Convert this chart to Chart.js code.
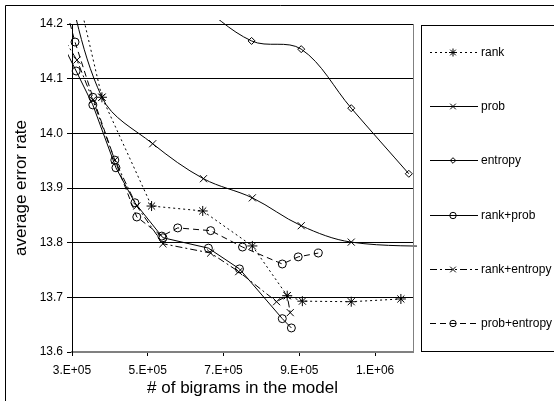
<!DOCTYPE html>
<html>
<head>
<meta charset="utf-8">
<script src="https://cdn.jsdelivr.net/npm/chart.js@4"></script>
<style>
  html, body { margin: 0; padding: 0; background: #fff; }
  #wrap { width: 554px; height: 401px; }
</style>
</head>
<body>
<div id="wrap"><canvas id="chart" width="554" height="401"></canvas></div>
<script>
// values (first/last points lie outside the axes, as in the original)
const rankX = [2.6e5, 3.79e5, 5.1e5, 6.45e5, 7.76e5, 8.68e5, 9.08e5, 1.037e6, 1.168e6];
const rankY = [14.42, 14.066, 13.867, 13.858, 13.794, 13.703, 13.693, 13.692, 13.697];

const probX = [2.6e5, 3.79e5, 5.13e5, 6.47e5, 7.76e5, 9.05e5, 1.037e6, 1.3e6];
const probY = [14.356, 14.066, 13.981, 13.917, 13.882, 13.831, 13.801, 13.792];

const entropyX = [6.2e5, 7.74e5, 9.05e5, 1.037e6, 1.189e6];
const entropyY = [14.245, 14.169, 14.154, 14.046, 13.926];

const rankProbX = [2.6e5, 3.11e5, 3.55e5, 4.16e5, 4.66e5, 5.4e5, 6.6e5, 7.42e5, 8.55e5, 8.79e5];
const rankProbY = [14.184, 14.114, 14.052, 13.937, 13.873, 13.809, 13.79, 13.752, 13.661, 13.644];

const rankEntX = [2.6e5, 3.13e5, 3.55e5, 4.13e5, 4.71e5, 5.4e5, 6.66e5, 7.4e5, 8.4e5, 8.68e5, 8.76e5];
const rankEntY = [14.194, 14.134, 14.061, 13.951, 13.867, 13.798, 13.781, 13.747, 13.692, 13.703, 13.672];

const probEntX = [2.6e5, 3.08e5, 3.55e5, 4.13e5, 4.71e5, 5.37e5, 5.79e5, 6.66e5, 7.5e5, 8.55e5, 8.97e5, 9.5e5];
const probEntY = [14.29, 14.167, 14.066, 13.951, 13.847, 13.812, 13.827, 13.822, 13.792, 13.761, 13.774, 13.781];

const xTicks = [3e5, 5e5, 7e5, 9e5, 1.1e6];
const xMin = 3e5, xMax = 1.2e6;
const yMin = 13.6, yMax = 14.2;

const FONT = '"Liberation Sans", Arial, sans-serif';
Chart.defaults.font.family = FONT;
Chart.defaults.color = '#000';

const pts = (xs, ys) => xs.map((x, i) => ({ x: x, y: ys[i] }));

function series(label, xs, ys, dash, style, radius, tension) {
    return {
        label: label,
        data: pts(xs, ys),
        borderColor: '#000',
        borderWidth: 1,
        borderDash: dash,
        tension: tension || 0,
        pointStyle: style,
        pointRadius: radius,
        pointBorderColor: '#000',
        pointBackgroundColor: 'rgba(0,0,0,0)',
        pointBorderWidth: 1,
        clip: 4
    };
}

// excel style "3.E+05"
function sci(v) {
    const e = Math.floor(Math.log10(v));
    let m = Math.round(v / Math.pow(10, e));
    return m + '.E+' + String(e).padStart(2, '0');
}

const frame = {
    id: 'frame',
    beforeDraw(chart) {
        const ctx = chart.ctx;
        ctx.save();
        ctx.fillStyle = '#fff';
        ctx.fillRect(0, 0, chart.width, chart.height);
        ctx.strokeStyle = '#000';
        ctx.lineWidth = 1;
        ctx.beginPath();
        ctx.moveTo(5.5, chart.height + 5);
        ctx.lineTo(5.5, 5.5);
        ctx.lineTo(chart.width + 5, 5.5);
        ctx.stroke();
        ctx.restore();
    },
    afterDraw(chart) {
        const ctx = chart.ctx, a = chart.chartArea;
        ctx.save();
        // plot area right edge
        ctx.strokeStyle = '#808080';
        ctx.lineWidth = 1;
        ctx.beginPath();
        ctx.moveTo(a.right + 0.5, a.top);
        ctx.lineTo(a.right + 0.5, a.bottom);
        ctx.stroke();

        // legend box
        ctx.strokeStyle = '#000';
        ctx.strokeRect(421.5, 25.5, 200, 326);
        ctx.font = '12px ' + FONT;
        ctx.textBaseline = 'middle';
        ctx.fillStyle = '#000';
        chart.data.datasets.forEach((ds, i) => {
            const y = Math.round(52 + i * 54.2) + 0.5;
            ctx.save();
            ctx.strokeStyle = ds.borderColor;
            ctx.lineWidth = ds.borderWidth;
            ctx.setLineDash(ds.borderDash || []);
            ctx.beginPath();
            ctx.moveTo(430, y);
            ctx.lineTo(478, y);
            ctx.stroke();
            ctx.setLineDash([]);
            ctx.fillStyle = ds.pointBackgroundColor;
            Chart.helpers.drawPoint(ctx, {
                pointStyle: ds.pointStyle,
                radius: ds.pointRadius * 0.8,
                rotation: 0,
                borderWidth: 1
            }, 453, y);
            ctx.restore();
            ctx.fillText(ds.label, 481, y);
        });
        ctx.restore();
    }
};

new Chart(document.getElementById('chart'), {
    type: 'line',
    data: {
        datasets: [
            series('rank', rankX, rankY, [2, 3], 'star', 5),
            series('prob', probX, probY, [], 'crossRot', 5, 0.35),
            series('entropy', entropyX, entropyY, [], 'rectRot', 3.5, 0.35),
            series('rank+prob', rankProbX, rankProbY, [], 'circle', 4),
            series('rank+entropy', rankEntX, rankEntY, [7, 3, 2, 3], 'crossRot', 5),
            series('prob+entropy', probEntX, probEntY, [6, 4], 'circle', 4)
        ]
    },
    options: {
        responsive: false,
        animation: false,
        events: [],
        layout: { padding: { left: 0, top: 24, right: 141, bottom: 0 } },
        plugins: { legend: { display: false }, tooltip: { enabled: false } },
        scales: {
            x: {
                type: 'linear',
                min: xMin, max: xMax,
                afterBuildTicks: s => { s.ticks = xTicks.map(v => ({ value: v })); },
                afterFit: s => { s.height = 49; },
                grid: { drawOnChartArea: false, drawTicks: true, tickLength: 4, color: '#000' },
                border: { color: '#808080', width: 2 },
                ticks: {
                    autoSkip: false, maxRotation: 0, padding: 7,
                    font: { size: 12 },
                    callback: v => sci(v)
                },
                title: {
                    display: true, text: '# of bigrams in the model',
                    font: { size: 17 }, padding: { top: 0, bottom: 2 }
                }
            },
            y: {
                min: yMin, max: yMax,
                afterFit: s => { s.width = 72; },
                grid: { color: '#000', lineWidth: 1, tickLength: 5 },
                border: { color: '#000', width: 1 },
                ticks: {
                    stepSize: 0.1, padding: 4,
                    font: { size: 12 },
                    callback: v => v.toFixed(1)
                },
                title: {
                    display: true, text: 'average error rate',
                    font: { size: 17 }, padding: { top: 11, bottom: 0 }
                }
            }
        }
    },
    plugins: [frame]
});
</script>
</body>
</html>
